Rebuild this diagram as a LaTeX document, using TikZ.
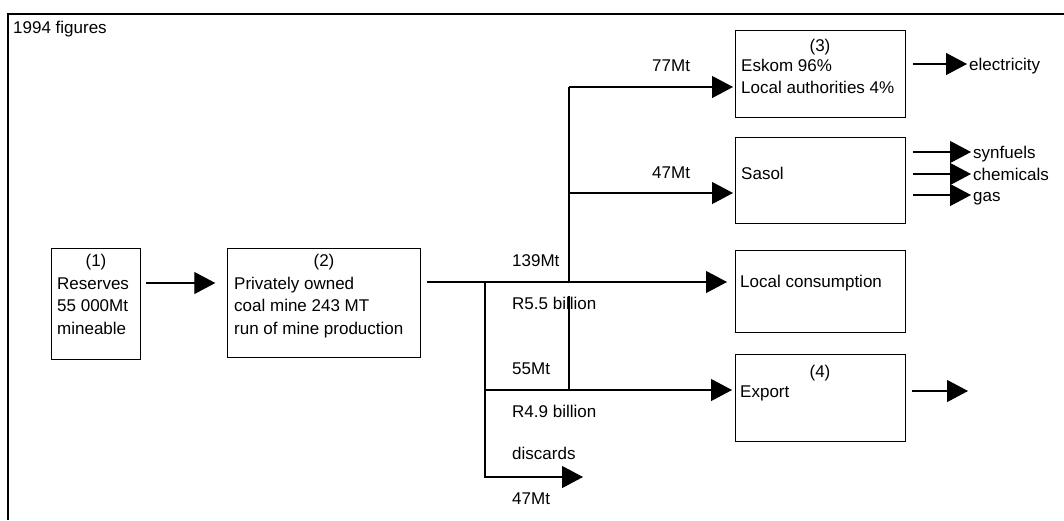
\documentclass[tikz,border=0pt]{standalone}
\usepackage{fontspec}
\setmainfont{Liberation Sans}
\usetikzlibrary{arrows.meta}
\begin{document}
\begin{tikzpicture}[x=1pt,y=-1pt,
  box/.style={draw, line width=1.3pt, inner sep=0pt, anchor=north west},
  lbl/.style={inner sep=0pt, anchor=base west, font=\fontsize{17}{20}\selectfont},
  clbl/.style={inner sep=0pt, anchor=base, font=\fontsize{17}{20}\selectfont},
  plain/.style={line width=1.1pt},
  flow/.style={line width=1.1pt, -{Triangle[length=21pt,width=22pt]}}]
\useasboundingbox (0,0) rectangle (1064,520);
% outer frame (left and top edges visible)
\draw[line width=1.4pt] (8,520) -- (8,14) -- (1064,14);
\node[lbl] (title) at (13,33) {1994 figures};

% boxes
\node[box, minimum width=89pt, minimum height=111pt] (b1) at (51,248) {};
\node[box, minimum width=193pt, minimum height=109pt] (b2) at (227,248) {};
\node[box, minimum width=170pt, minimum height=87pt] (esk) at (735,30) {};
\node[box, minimum width=170pt, minimum height=86pt] (sas) at (735,137) {};
\node[box, minimum width=170pt, minimum height=82pt] (lc) at (735,250) {};
\node[box, minimum width=170pt, minimum height=87pt] (ex) at (735,354) {};

% box texts
\node[clbl] (t1a) at (96,266) {(1)};
\node[lbl] (t1b) at (57,289) {Reserves};
\node[lbl] (t1c) at (57,311) {55 000Mt};
\node[lbl] (t1d) at (57,334) {mineable};
\node[clbl] (t2a) at (324,266) {(2)};
\node[lbl] (t2b) at (234,289) {Privately owned};
\node[lbl] (t2c) at (234,311) {coal mine 243 MT};
\node[lbl] (t2d) at (234,334) {run of mine production};
\node[clbl] (t3a) at (820,51) {(3)};
\node[lbl] (t3b) at (741,71) {Eskom 96\%};
\node[lbl] (t3c) at (741,93) {Local authorities 4\%};
\node[lbl] (tsas) at (741,179) {Sasol};
\node[lbl] (tlc) at (740,287) {Local consumption};
\node[clbl] (t4a) at (820,377) {(4)};
\node[lbl] (t4b) at (740,397) {Export};

% flow labels
\node[lbl] (l139) at (512,266) {139Mt};
\node[lbl] (lr55) at (512,309) {R5.5 billion};
\node[lbl] (l55) at (512,374) {55Mt};
\node[lbl] (lr49) at (512,417) {R4.9 billion};
\node[lbl] (ldis) at (512,459) {discards};
\node[lbl] (l47b) at (512,504) {47Mt};
\node[lbl] (l77) at (652,71) {77Mt};
\node[lbl] (l47) at (652,178) {47Mt};
\node[lbl] (lel) at (969,70) {electricity};
\node[lbl] (lsyn) at (973,158) {synfuels};
\node[lbl] (lche) at (973,180) {chemicals};
\node[lbl] (lgas) at (973,201) {gas};

% junction coordinates
\coordinate (jL) at (485,282);
\coordinate (jR) at (569,282);
\coordinate (kY) at (0,87);
\coordinate (sY) at (0,193);
\coordinate (eY) at (0,390);
\coordinate (gap) at (0,296);
\coordinate (dis) at (583,477);
\coordinate (eL) at (967,64);
\coordinate (o1) at (971,152);
\coordinate (o2) at (971,174);
\coordinate (o3) at (971,195);
\coordinate (xo) at (968,391);

% connectors
\draw[flow] (b1.east |- 0,283) ++(5,0) -- ++(69,0);
\draw[flow, shorten >=8pt] (b2.east |- jL) ++(6,0) -- (lc.west |- jL);
\draw[flow] (jL) |- (dis);
\draw[flow, shorten >=3pt] (jL |- eY) -- (ex.west |- eY);
\draw[plain] (jR |- kY) -- (jR);
\draw[plain] (jR |- gap) -- (jR |- eY);
\draw[flow, shorten >=2pt] (jR |- kY) -- (esk.west |- kY);
\draw[flow, shorten >=2pt] (jR |- sY) -- (sas.west |- sY);
\draw[flow] (esk.east |- eL) ++(7,0) -- (eL);
\draw[flow] (sas.east |- o1) ++(7,0) -- (o1);
\draw[flow] (sas.east |- o2) ++(7,0) -- (o2);
\draw[flow] (sas.east |- o3) ++(7,0) -- (o3);
\draw[flow] (ex.east |- xo) ++(6,0) -- (xo);
\end{tikzpicture}
\end{document}
